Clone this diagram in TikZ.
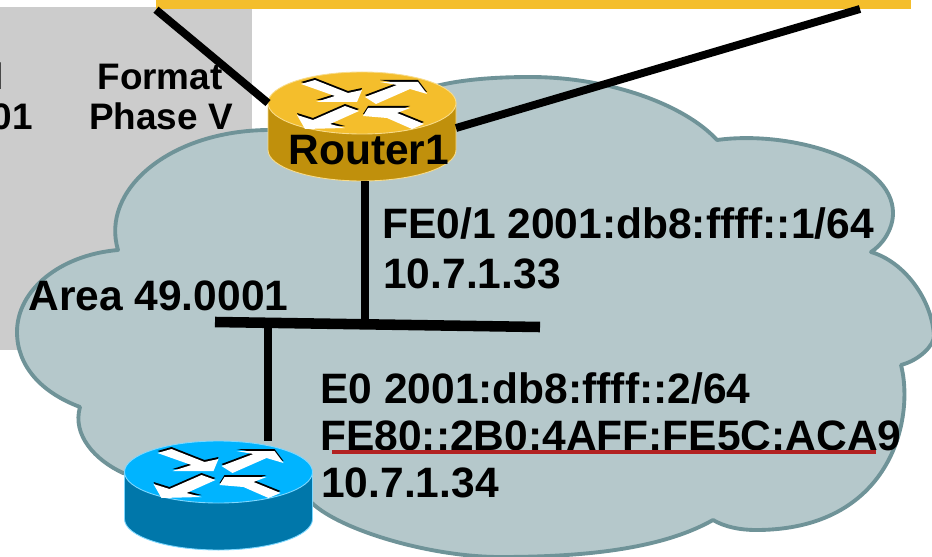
\documentclass[tikz,border=0pt]{standalone}
\usepackage{fontspec}
\setmainfont{Liberation Sans}
\usepackage{tikz}
\usetikzlibrary{positioning}
\definecolor{barorange}{HTML}{F4BE2C}
\definecolor{areagrey}{HTML}{CCCCCC}
\definecolor{cloudfill}{HTML}{B5C8CB}
\definecolor{cloudline}{HTML}{6F9398}
\definecolor{linkred}{HTML}{B22222}
\definecolor{goldtop}{HTML}{F4BE2C}
\definecolor{goldside}{HTML}{C0900C}
\definecolor{goldedge}{HTML}{F8DC8C}
\definecolor{bluetop}{HTML}{00B4FF}
\definecolor{blueside}{HTML}{0077AA}
\definecolor{blueedge}{HTML}{7FD8FF}

\begin{document}
\begin{tikzpicture}[
  x=0.02cm, y=-0.02cm,
  label/.style={anchor=base west, inner sep=0pt, font=\fontsize{24.2}{24.2}\selectfont\bfseries},
  formatlabel/.style={anchor=base, inner sep=0pt, font=\fontsize{21}{21}\selectfont\bfseries},
  link/.style={line width=4.5pt},
  arrowshape/.style={fill=white},
  pics/router/.style n args={3}{code={
    % body, then top face
    \draw[fill=#2, draw=#3, line width=0.5pt] (-94,0) -- (-94,47) arc[start angle=180, end angle=360, x radius=94, y radius=-31] -- (94,0) -- cycle;
    \draw[fill=#1, draw=#3, line width=0.5pt] (0,0) ellipse[x radius=94, y radius=31];
    % four arrows
    \foreach \pts in {
      {(-61,-20)--(-47,-24)--(-14,-11)--(0,-14)--(-5,-2)--(-46,-2)--(-27,-8)},
      {(3,-7)--(35,-19)--(18,-22)--(56,-22)--(65,-10)--(48,-15)--(14,0)},
      {(-3,7)--(-32,20)--(-17,24)--(-57,25)--(-65,11)--(-49,16)--(-17,2)},
      {(6,4)--(48,4)--(35,9)--(62,20)--(50,25)--(25,14)--(1,12)}} {
      \fill[black, yshift=0.02cm] \pts -- cycle;
      \fill[arrowshape, yshift=-0.02cm] \pts -- cycle;
    }
    \coordinate (-nw) at (-94,0);
    \coordinate (-ne) at (94,25);
    \coordinate (-s) at (0,78);
    \coordinate (-n) at (0,-31);
  }}
]

\useasboundingbox (0,0) rectangle (932,557);
\clip (0,0) rectangle (932,557);

% Grey area and top bar
\fill[areagrey] (0,7) rectangle (252,350);
\node[fill=barorange, inner sep=0pt, anchor=north west, minimum width=15.1cm, minimum height=0.18cm] (Backbone) at (156,0) {};

% Text on the grey area
\node[formatlabel] (Format) at (160,90) {Format};
\node[formatlabel] (Phase) at (161,130) {Phase V};
\node[formatlabel, anchor=base east] (CutL) at (4,90) {l};
\node[formatlabel, anchor=base east] (CutN) at (33,130) {01};

% Cloud
\draw[fill=cloudfill, draw=cloudline, line width=2.2pt, line join=round]
  (118,250) .. controls (100,190) and (170,130) .. (270,130)
  .. controls (310,128) and (370,120) .. (400,100)
  .. controls (430,82) and (480,77) .. (530,77)
  .. controls (610,77) and (685,105) .. (717,140)
  .. controls (790,130) and (893,160) .. (893,213)
  .. controls (893,230) and (882,245) .. (871,252)
  .. controls (905,262) and (932,300) .. (934,336)
  .. controls (934,345) and (920,360) .. (901,365)
  .. controls (915,420) and (890,530) .. (756,530)
  .. controls (740,530) and (725,527) .. (713,520)
  .. controls (660,550) and (580,557) .. (500,557)
  .. controls (430,557) and (340,530) .. (312,503)
  -- (220,490) -- (123,473)
  .. controls (95,460) and (72,435) .. (80,407)
  .. controls (40,392) and (17,365) .. (17,332)
  .. controls (17,290) and (60,255) .. (118,250) -- cycle;

% Routers
\pic (R1) at (362,103) {router={goldtop}{goldside}{goldedge}};
\pic (R2) at (218.5,472) {router={bluetop}{blueside}{blueedge}};

% Segment between the routers
\coordinate (LANl) at (215,322);
\coordinate (LANr) at (540,327);
\coordinate (LANa) at (365,320);
\coordinate (LANb) at (268,324);
\coordinate (BackR) at (860,9);

% Links
\draw[link] (Backbone.south west) -- (R1-nw);
\draw[link] (R1-ne) -- (BackR);
\draw[link] (LANa |- R1-s) -- (LANa);
\draw[line width=6pt] (LANl) -- (LANr);
\draw[link] (LANb) -- (LANb |- R2-n);

% Labels
\node[label] (R1name) at (288,165) {Router1};
\node[label] (FE) at (382,238) {FE0/1 2001:db8:ffff::1/64};
\node[label] (FEip) at (383,288) {10.7.1.33};
\node[label] (Area) at (28,310) {Area 49.0001};
\node[label] (E0) at (320,403) {E0 2001:db8:ffff::2/64};
\node[label] (LL) at (320,450) {FE80::2B0:4AFF:FE5C:ACA9};
\node[label] (E0ip) at (321,497) {10.7.1.34};

% Underline of the link-local address
\coordinate (ULl) at (332,452);
\coordinate (ULr) at (876,452);
\draw[linkred, line width=2.8pt] (ULl) -- (ULr);

\end{tikzpicture}
\end{document}
